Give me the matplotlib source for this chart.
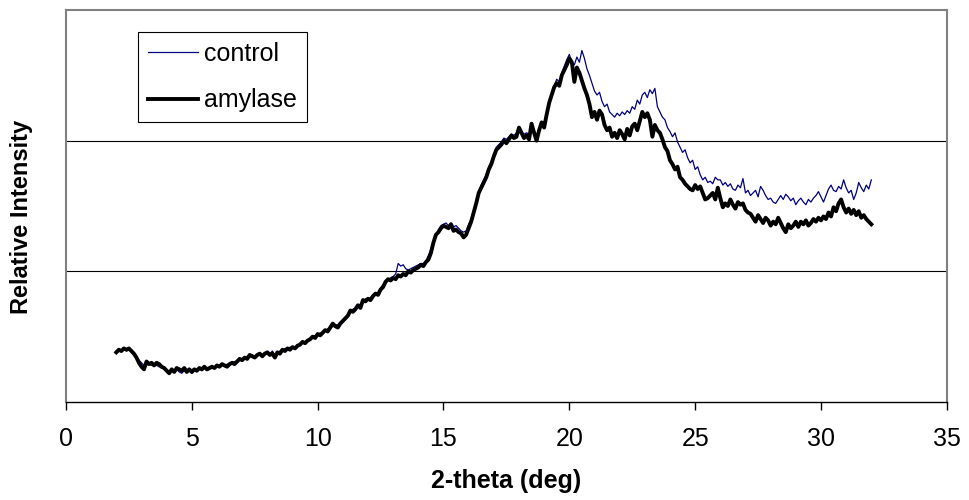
import numpy as np
import matplotlib
matplotlib.use("Agg")
import matplotlib.pyplot as plt

plt.rcParams['font.family'] = ['Liberation Sans', 'DejaVu Sans']

# 2-theta from 2.0 to 32.0 deg, step 0.1
two_theta = np.round(np.arange(2.0, 32.05, 0.1), 1)

control = [
    0.39, 0.40, 0.40, 0.41, 0.39, 0.40, 0.38, 0.36, 0.35, 0.32,
    0.30, 0.28, 0.30, 0.29, 0.28, 0.29, 0.28, 0.27, 0.26, 0.27,
    0.25, 0.23, 0.24, 0.24, 0.25, 0.23, 0.22, 0.24, 0.23, 0.24,
    0.22, 0.24, 0.23, 0.25, 0.24, 0.26, 0.24, 0.25, 0.26, 0.27,
    0.27, 0.28, 0.28, 0.27, 0.29, 0.28, 0.30, 0.31, 0.30, 0.32,
    0.33, 0.33, 0.35, 0.34, 0.36, 0.35, 0.35, 0.37, 0.36, 0.36,
    0.37, 0.37, 0.39, 0.36, 0.37, 0.39, 0.39, 0.41, 0.40, 0.42,
    0.41, 0.42, 0.44, 0.43, 0.45, 0.46, 0.46, 0.49, 0.49, 0.51,
    0.51, 0.53, 0.52, 0.54, 0.56, 0.56, 0.58, 0.59, 0.59, 0.61,
    0.63, 0.65, 0.67, 0.69, 0.71, 0.72, 0.73, 0.75, 0.77, 0.79,
    0.78, 0.80, 0.82, 0.82, 0.84, 0.87, 0.90, 0.91, 0.93, 0.95,
    0.96, 0.98, 1.06, 1.04, 1.05, 1.02, 1.01, 1.02, 1.03, 1.04,
    1.05, 1.06, 1.06, 1.08, 1.12, 1.17, 1.23, 1.27, 1.32, 1.35,
    1.36, 1.37, 1.35, 1.37, 1.34, 1.35, 1.33, 1.31, 1.30, 1.31,
    1.36, 1.40, 1.47, 1.54, 1.61, 1.66, 1.70, 1.74, 1.80, 1.84,
    1.90, 1.95, 1.97, 1.99, 2.02, 2.01, 2.03, 2.05, 2.04, 2.06,
    2.08, 2.07, 2.05, 2.06, 2.05, 2.10, 2.08, 2.04, 2.09, 2.13,
    2.14, 2.22, 2.30, 2.36, 2.42, 2.47, 2.45, 2.52, 2.57, 2.62,
    2.66, 2.60, 2.58, 2.64, 2.60, 2.69, 2.63, 2.55, 2.50, 2.44,
    2.38, 2.35, 2.37, 2.30, 2.26, 2.28, 2.22, 2.20, 2.18, 2.21,
    2.19, 2.22, 2.20, 2.23, 2.21, 2.26, 2.24, 2.31, 2.28, 2.35,
    2.37, 2.33, 2.39, 2.36, 2.40, 2.26, 2.22, 2.18, 2.16, 2.10,
    2.07, 2.03, 2.06, 1.99, 1.95, 1.91, 1.93, 1.87, 1.83, 1.85,
    1.78, 1.80, 1.74, 1.70, 1.72, 1.68, 1.69, 1.67, 1.72, 1.70,
    1.70, 1.66, 1.68, 1.65, 1.67, 1.63, 1.62, 1.66, 1.64, 1.71,
    1.60, 1.62, 1.58, 1.60, 1.62, 1.57, 1.65, 1.62, 1.58, 1.55,
    1.56, 1.53, 1.52, 1.55, 1.58, 1.55, 1.59, 1.57, 1.54, 1.56,
    1.51, 1.54, 1.56, 1.53, 1.51, 1.55, 1.53, 1.56, 1.58, 1.61,
    1.57, 1.53, 1.58, 1.63, 1.66, 1.62, 1.61, 1.65, 1.63, 1.70,
    1.64, 1.60, 1.62, 1.55, 1.60, 1.68, 1.64, 1.61, 1.66, 1.63,
    1.70,
]

amylase = [
    0.38, 0.40, 0.39, 0.41, 0.40, 0.41, 0.39, 0.37, 0.34, 0.30,
    0.27, 0.25, 0.31, 0.29, 0.30, 0.28, 0.30, 0.29, 0.27, 0.26,
    0.24, 0.22, 0.25, 0.23, 0.26, 0.25, 0.24, 0.26, 0.23, 0.25,
    0.23, 0.25, 0.24, 0.26, 0.25, 0.27, 0.25, 0.26, 0.27, 0.26,
    0.28, 0.27, 0.29, 0.28, 0.27, 0.29, 0.30, 0.29, 0.31, 0.33,
    0.32, 0.34, 0.33, 0.36, 0.35, 0.34, 0.36, 0.37, 0.35, 0.37,
    0.38, 0.36, 0.37, 0.34, 0.38, 0.37, 0.40, 0.39, 0.41, 0.40,
    0.42, 0.41, 0.43, 0.44, 0.46, 0.45, 0.47, 0.48, 0.50, 0.49,
    0.52, 0.51, 0.53, 0.55, 0.54, 0.57, 0.60, 0.58, 0.57, 0.60,
    0.62, 0.64, 0.66, 0.70, 0.69, 0.71, 0.74, 0.72, 0.78, 0.77,
    0.79, 0.78, 0.81, 0.83, 0.82, 0.86, 0.88, 0.92, 0.94, 0.93,
    0.95, 0.94, 0.97, 0.96, 0.98, 0.97, 1.00, 0.99, 1.01, 1.02,
    1.03, 1.05, 1.04, 1.07, 1.09, 1.14, 1.22, 1.28, 1.30, 1.33,
    1.35, 1.34, 1.33, 1.36, 1.31, 1.32, 1.30, 1.29, 1.26, 1.28,
    1.33, 1.38, 1.45, 1.52, 1.60, 1.64, 1.68, 1.72, 1.78, 1.82,
    1.88, 1.93, 1.95, 1.97, 2.00, 1.98, 2.01, 2.04, 2.02, 2.03,
    2.10, 2.06, 2.02, 2.04, 2.01, 2.13, 2.06, 2.00, 2.08, 2.14,
    2.10, 2.20, 2.29, 2.35, 2.41, 2.44, 2.42, 2.50, 2.54, 2.58,
    2.63, 2.60, 2.45, 2.56, 2.52, 2.46, 2.40, 2.35, 2.28, 2.18,
    2.22, 2.16, 2.23, 2.20, 2.12, 2.08, 2.10, 2.03, 2.06, 2.02,
    2.08, 2.05, 2.01, 2.09, 2.04, 2.11, 2.13, 2.08, 2.15, 2.22,
    2.18, 2.21, 2.16, 2.03, 2.12, 2.08, 2.06, 2.01, 1.95, 1.92,
    1.85, 1.82, 1.78, 1.80, 1.72, 1.70, 1.67, 1.65, 1.63, 1.62,
    1.66, 1.63, 1.65, 1.60, 1.55, 1.56, 1.58, 1.60, 1.55, 1.64,
    1.56, 1.49, 1.52, 1.50, 1.55, 1.51, 1.48, 1.53, 1.51, 1.52,
    1.47, 1.45, 1.44, 1.41, 1.38, 1.43, 1.40, 1.37, 1.41, 1.39,
    1.35, 1.38, 1.36, 1.41, 1.37, 1.33, 1.30, 1.36, 1.33, 1.35,
    1.38, 1.34, 1.38, 1.36, 1.39, 1.35, 1.37, 1.40, 1.38, 1.41,
    1.39, 1.42, 1.40, 1.45, 1.42, 1.49, 1.46, 1.52, 1.55, 1.49,
    1.45, 1.48, 1.44, 1.47, 1.43, 1.46, 1.41, 1.43, 1.40, 1.38,
    1.36,
]

x_ticks = [0, 5, 10, 15, 20, 25, 30, 35]

fig = plt.figure(figsize=(9.69, 5.0), dpi=100)
ax = fig.add_axes([0.0681, 0.196, 0.909, 0.784])

ax.plot(two_theta, control, color='#000080', lw=0.9, label='control')
ax.plot(two_theta, amylase, color='black', lw=2.8, label='amylase')

ax.set_xlim(0, 35)
ax.set_ylim(0, 3)
ax.set_xticks(x_ticks)
ax.set_yticks([])
for gy in [1, 2]:
    ax.axhline(gy, color='black', lw=0.8, zorder=0)

for side in ['left', 'top', 'right']:
    ax.spines[side].set_color('#808080')
    ax.spines[side].set_linewidth(1.5)
ax.spines['bottom'].set_color('black')
ax.spines['bottom'].set_linewidth(1.0)

ax.tick_params(axis='x', direction='out', length=6, width=1, labelsize=18, pad=12)
ax.set_xlabel('2-theta (deg)', fontsize=18, fontweight='bold', labelpad=13)
ax.set_ylabel('Relative Intensity', fontsize=17, fontweight='bold')
ax.yaxis.set_label_coords(-0.038, 0.472)

leg = ax.legend(loc='upper left', bbox_to_anchor=(0.0817, 0.944), borderaxespad=0,
                fontsize=18, handlelength=2.0, handletextpad=0.25, labelspacing=0.9,
                fancybox=False, edgecolor='black', framealpha=1, borderpad=0.4)
leg.get_frame().set_linewidth(0.8)

fig.savefig('out.png', dpi=100)
